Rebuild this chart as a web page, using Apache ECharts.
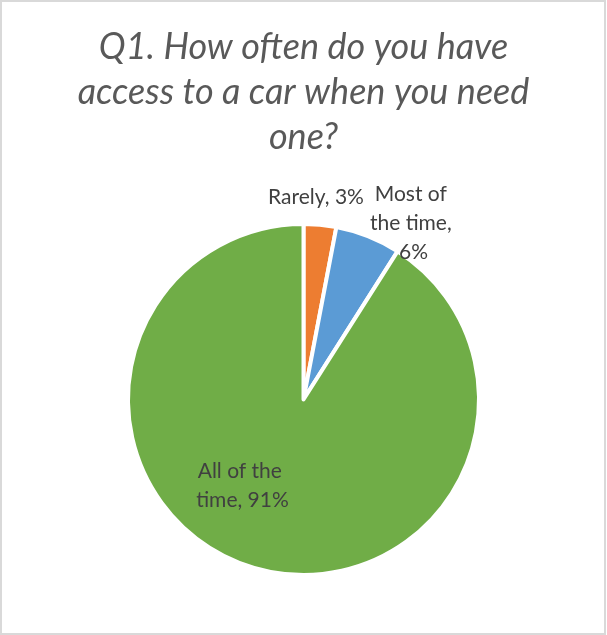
<!DOCTYPE html>
<html>
<head>
<meta charset="utf-8">
<script src="https://cdn.jsdelivr.net/npm/echarts@6/dist/echarts.min.js"></script>
<style>
  html, body { margin: 0; padding: 0; background: #fff; }
  #chart { width: 607px; height: 635px; }
</style>
</head>
<body>
<div id="chart"></div>
<script>
// Survey answers and their shares (percent)
const categories = ['Rarely', 'Most of the time', 'All of the time'];
const shares = [3, 6, 91];
const sliceColors = ['#ED7D31', '#5B9BD5', '#70AD47'];
const titleText = 'Q1. How often do you have\naccess to a car when you need\none?';

// Pie geometry
const CX = 303.5, CY = 399.5, R = 175.5;
// Label anchor offsets from the pie centre and wrap widths
const labelSpots = [
  { dx: 12.5, dy: -202, width: 130 },
  { dx: 110, dy: -176, width: 95 },
  { dx: -61, dy: 86, width: 118 }
];

const chart = echarts.init(document.getElementById('chart'), null, { renderer: 'canvas' });

const data = categories.map((name, i) => ({
  name: name,
  value: shares[i],
  itemStyle: { color: sliceColors[i] },
  label: { width: labelSpots[i].width }
}));

chart.setOption({
  backgroundColor: '#ffffff',
  animation: false,
  title: {
    text: titleText,
    left: 'center',
    top: 20,
    textStyle: {
      fontFamily: 'Lato',
      fontStyle: 'italic',
      fontWeight: 'normal',
      fontSize: 36,
      lineHeight: 45,
      color: '#595959',
      align: 'center'
    }
  },
  graphic: [{
    type: 'rect',
    shape: { x: 1, y: 1, width: 604, height: 633 },
    style: { fill: 'none', stroke: '#d9d9d9', lineWidth: 2 },
    silent: true
  }],
  series: [{
    type: 'pie',
    center: [CX, CY],
    radius: [0, R],
    startAngle: 90,
    clockwise: true,
    avoidLabelOverlap: false,
    emphasis: { disabled: true },
    itemStyle: { borderColor: '#ffffff', borderWidth: 4 },
    label: {
      show: true,
      position: 'outside',
      formatter: p => p.name + ', ' + p.value + '%',
      fontFamily: 'Lato',
      fontSize: 21,
      lineHeight: 29,
      color: '#404040',
      overflow: 'break',
      align: 'center'
    },
    labelLine: { show: false },
    labelLayout: function (params) {
      const s = labelSpots[params.dataIndex];
      return {
        x: CX + s.dx,
        y: CY + s.dy,
        align: 'center',
        verticalAlign: 'middle',
        hideOverlap: false
      };
    },
    data: data
  }]
});
</script>
</body>
</html>
